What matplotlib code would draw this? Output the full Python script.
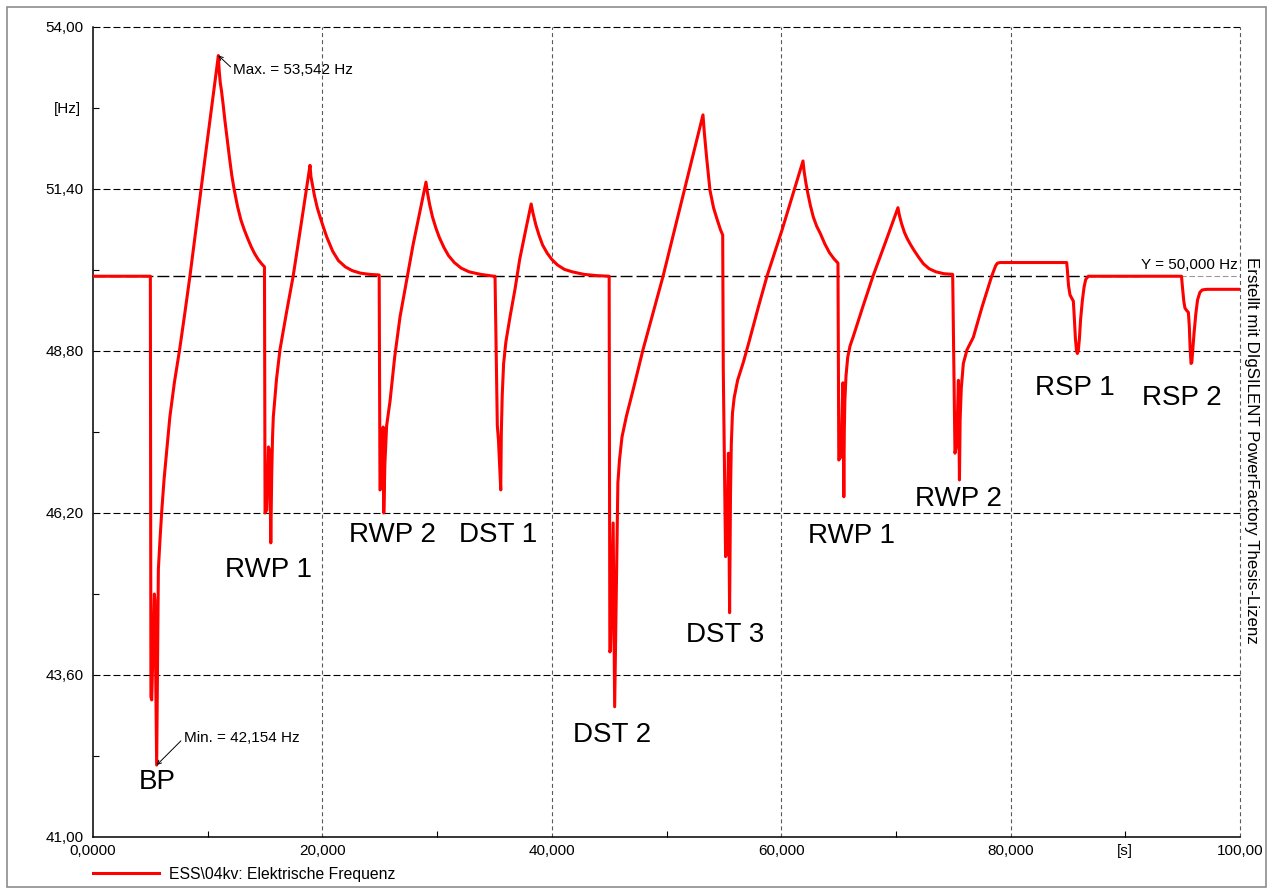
import matplotlib
matplotlib.use('Agg')
import matplotlib.pyplot as plt
from matplotlib.patches import Rectangle
import numpy as np

plt.rcParams['font.family'] = ['Liberation Sans', 'DejaVu Sans']
plt.rcParams['lines.scale_dashes'] = False

# frequency trace (time in s, frequency in Hz)
time_s = [0.0, 5.0, 5.05, 5.12, 5.35, 5.4, 5.55, 5.7, 5.85, 6.0, 6.2, 6.45, 6.7, 7.1, 7.55, 8.0,
          8.45, 9.7, 10.93,
          11.0, 11.1, 11.2, 11.35, 11.5, 11.7, 11.9, 12.1, 12.3, 12.6, 12.9, 13.2, 13.5, 13.8,
          14.1, 14.4, 14.7, 14.95,
          15.0, 15.15, 15.3, 15.4, 15.5, 15.58, 15.65, 15.72, 16.0, 16.3, 16.9, 17.45, 18.2, 18.92,
          19.0, 19.1, 19.3, 19.55, 19.8, 20.1, 20.4, 20.9, 21.4, 22.0, 22.6, 23.3, 24.1, 24.95,
          25.02, 25.15, 25.3, 25.35, 25.45, 25.6, 25.9, 26.3, 26.77, 27.9, 29.03,
          29.15, 29.35, 29.6, 29.9, 30.2, 30.6, 31.0, 31.5, 32.1, 32.8, 33.8, 34.95,
          35.05, 35.25, 35.35, 35.55, 35.6, 35.68, 35.8, 36.0, 36.36, 36.8, 37.2, 37.7, 38.2,
          38.35, 38.6, 38.9, 39.2, 39.6, 40.0, 40.5, 41.1, 41.8, 42.8, 43.9, 44.95,
          45.0, 45.06, 45.12, 45.35, 45.48, 45.76, 45.9, 46.12, 46.5, 47.08, 47.95, 49.7, 53.18,
          53.3, 53.5, 53.79, 54.1, 54.4, 54.7, 54.9,
          54.95, 55.15, 55.25, 55.4, 55.5, 55.58, 55.65, 55.75, 55.9, 56.2, 56.7, 57.2, 58.0,
          58.76, 60.07, 61.9,
          62.0, 62.15, 62.3, 62.55, 62.8, 63.1, 63.4, 63.8, 64.2, 64.6, 64.95,
          65.02, 65.2, 65.38, 65.46, 65.5, 65.55, 65.65, 65.8, 66.0, 66.26, 67.1, 68.0, 69.1, 70.18,
          70.3, 70.5, 70.75, 71.0, 71.3, 71.6, 72.0, 72.4, 72.9, 73.5, 74.2, 74.86,
          74.95, 75.15, 75.3, 75.45, 75.54, 75.6, 75.7, 75.88, 76.2, 76.75, 77.5, 78.35, 78.7,
          78.85, 79.1, 84.89,
          84.95, 85.05, 85.18, 85.35, 85.47, 85.55, 85.65, 85.75, 85.82, 85.9, 86.0, 86.1, 86.25,
          86.4, 86.55, 86.78, 94.9,
          94.97, 95.1, 95.2, 95.35, 95.5, 95.58, 95.65, 95.73, 95.8, 95.9, 96.0, 96.15, 96.3,
          96.5, 96.7, 97.1, 100.0]
freq_hz = [50.0, 50.0, 43.25, 43.2, 44.9, 44.8, 42.154, 45.3, 45.8, 46.25, 46.75, 47.25, 47.74, 48.3, 48.82, 49.4,
           50.0, 51.8, 53.542,
           53.3, 53.1, 52.98, 52.75, 52.5, 52.2, 51.9, 51.62, 51.4, 51.12, 50.9, 50.74, 50.6, 50.47,
           50.36, 50.27, 50.2, 50.15,
           46.2, 46.25, 47.26, 47.2, 45.72, 46.8, 47.4, 47.74, 48.35, 48.82, 49.45, 50.0, 50.9, 51.78,
           51.6, 51.5, 51.3, 51.1, 50.95, 50.78, 50.62, 50.4, 50.25, 50.15, 50.09, 50.05, 50.03, 50.02,
           46.57, 46.6, 47.58, 46.2, 47.0, 47.6, 48.0, 48.7, 49.35, 50.5, 51.51,
           51.35, 51.15, 50.95, 50.77, 50.62, 50.46, 50.33, 50.22, 50.13, 50.07, 50.03, 50.0,
           50.0, 47.6, 47.37, 46.57, 47.5, 48.1, 48.6, 48.95, 49.35, 49.8, 50.27, 50.72, 51.16,
           51.02, 50.83, 50.65, 50.5, 50.37, 50.27, 50.18, 50.11, 50.07, 50.03, 50.01, 50.0,
           50.0, 43.97, 44.0, 46.04, 43.09, 46.68, 47.05, 47.42, 47.75, 48.17, 48.82, 50.0, 52.59,
           52.3, 51.9, 51.38, 51.1, 50.92, 50.75, 50.66,
           48.5, 45.5, 45.55, 47.16, 44.6, 46.5, 47.3, 47.8, 48.05, 48.33, 48.62, 48.95, 49.5,
           50.0, 50.74, 51.85,
           51.68, 51.5, 51.35, 51.13, 50.95, 50.8, 50.69, 50.52, 50.38, 50.28, 50.21,
           47.05, 47.1, 48.29, 46.46, 47.5, 48.0, 48.4, 48.7, 48.88, 49.02, 49.5, 50.0, 50.55, 51.1,
           50.98, 50.84, 50.7, 50.6, 50.5, 50.41, 50.3, 50.2, 50.12, 50.07, 50.04, 50.03,
           50.03, 47.16, 47.3, 48.33, 46.73, 47.7, 48.2, 48.6, 48.82, 49.02, 49.5, 50.0, 50.17,
           50.21, 50.22, 50.22,
           50.1, 49.85, 49.7, 49.64, 49.6, 49.35, 49.0, 48.8, 48.76, 48.8, 49.0, 49.3, 49.6,
           49.82, 49.95, 50.0, 50.0,
           49.85, 49.6, 49.49, 49.45, 49.42, 49.2, 48.85, 48.6, 48.62, 48.85, 49.1, 49.4, 49.62,
           49.74, 49.78, 49.79, 49.79]

event_names = ['BP', 'RWP 1', 'RWP 2', 'DST 1', 'DST 2', 'DST 3', 'RWP 1', 'RWP 2', 'RSP 1', 'RSP 2']
event_t = [5.58, 15.34, 26.07, 35.3, 45.29, 55.14, 66.17, 75.46, 85.57, 94.9]
event_f = [41.77, 45.17, 45.74, 45.74, 42.53, 44.13, 45.72, 46.31, 48.09, 47.93]

x_major = [0, 20, 40, 60, 80, 100]
x_major_labels = ['0,0000', '20,000', '40,000', '60,000', '80,000', '100,00']
x_minor = [10, 30, 50, 70, 90]
x_minor_labels = ['', '', '', '', '[s]']
y_major = [41.0, 43.6, 46.2, 48.8, 51.4, 54.0]
y_major_labels = ['41,00', '43,60', '46,20', '48,80', '51,40', '54,00']
y_minor = [42.3, 44.9, 47.5, 50.1, 52.7]
y_minor_labels = ['', '', '', '', '[Hz]']
ref_level = 50.0

W, H = 1274, 892
fig = plt.figure(figsize=(W / 100, H / 100), dpi=100)
ax = fig.add_axes([93 / W, 1 - 837 / H, (1240 - 93) / W, (837 - 27) / H])

ax.plot(time_s, freq_hz, color='#ff0000', lw=2.2, zorder=4,
        label='ESS\\04kv: Elektrische Frequenz')
ax.set_xlim(0, 100)
ax.set_ylim(41, 54)

# grid
for y in y_major[1:]:
    ax.axhline(y, color='black', lw=0.8, ls=(0, (5, 2.2)), clip_on=False, zorder=1)
for x in x_major[1:]:
    ax.axvline(x, color='#5a5a5a', lw=0.8, ls=(0, (2.9, 2.2)), clip_on=False, zorder=1)
ax.axhline(ref_level, xmax=0.912, color='black', lw=1.0, ls=(0, (8.6, 2.9)), zorder=2)
ax.axhline(ref_level, xmin=0.912, color='#9a9a9a', lw=0.8, ls=(0, (4, 2)), zorder=2)
ax.text(99.8, ref_level + 0.06, 'Y = ' + f'{ref_level:.3f}'.replace('.', ',') + ' Hz',
        ha='right', va='bottom', fontsize=11)

for s in ['top', 'right']:
    ax.spines[s].set_visible(False)
for s in ['left', 'bottom']:
    ax.spines[s].set_linewidth(1.1)

ax.set_xticks(x_major, x_major_labels)
ax.set_xticks(x_minor, x_minor_labels, minor=True)
ax.set_yticks(y_major, y_major_labels)
ax.set_yticks(y_minor, y_minor_labels, minor=True)
ax.tick_params(which='major', length=0, labelsize=11)
ax.tick_params(which='minor', length=4, width=0.8, direction='in', labelsize=11)
ax.tick_params(axis='y', which='major', pad=7)
ax.tick_params(axis='y', which='minor', pad=9)
ax.tick_params(axis='x', which='both', pad=5)

# extremes
imax = int(np.argmax(freq_hz))
imin = int(np.argmin(freq_hz))
arrow = dict(arrowstyle='->', color='black', lw=0.7, shrinkA=0, shrinkB=0,
             mutation_scale=7, relpos=(0, 0.5))
ax.annotate('Max. = ' + f'{freq_hz[imax]:.3f}'.replace('.', ',') + ' Hz',
            xy=(time_s[imax], freq_hz[imax]), xytext=(15, -14), textcoords='offset pixels',
            ha='left', va='center', fontsize=11, zorder=5, arrowprops=arrow)
ax.annotate('Min. = ' + f'{freq_hz[imin]:.3f}'.replace('.', ',') + ' Hz',
            xy=(time_s[imin], freq_hz[imin]), xytext=(27, 27), textcoords='offset pixels',
            ha='left', va='center', fontsize=11, zorder=5, arrowprops=arrow)

for name, lt, lf in zip(event_names, event_t, event_f):
    ax.text(lt, lf, name, ha='center', va='baseline', fontsize=20, zorder=5)

fig.legend(loc='center left', bbox_to_anchor=(93 / W, 1 - 874 / H), frameon=False,
           handlelength=4.2, handletextpad=0.65, borderpad=0, borderaxespad=0, fontsize=11.3)

fig.text(1252 / W, 1 - 450 / H, 'Erstellt mit DIgSILENT PowerFactory Thesis-Lizenz',
         rotation=270, ha='center', va='center', fontsize=12.2)

fig.add_artist(Rectangle((7 / W, 5 / H), (1266 - 7) / W, (886 - 6) / H,
                         transform=fig.transFigure, fill=False,
                         edgecolor='#8c8c8c', lw=1.2))

fig.savefig('out.png', dpi=100)
